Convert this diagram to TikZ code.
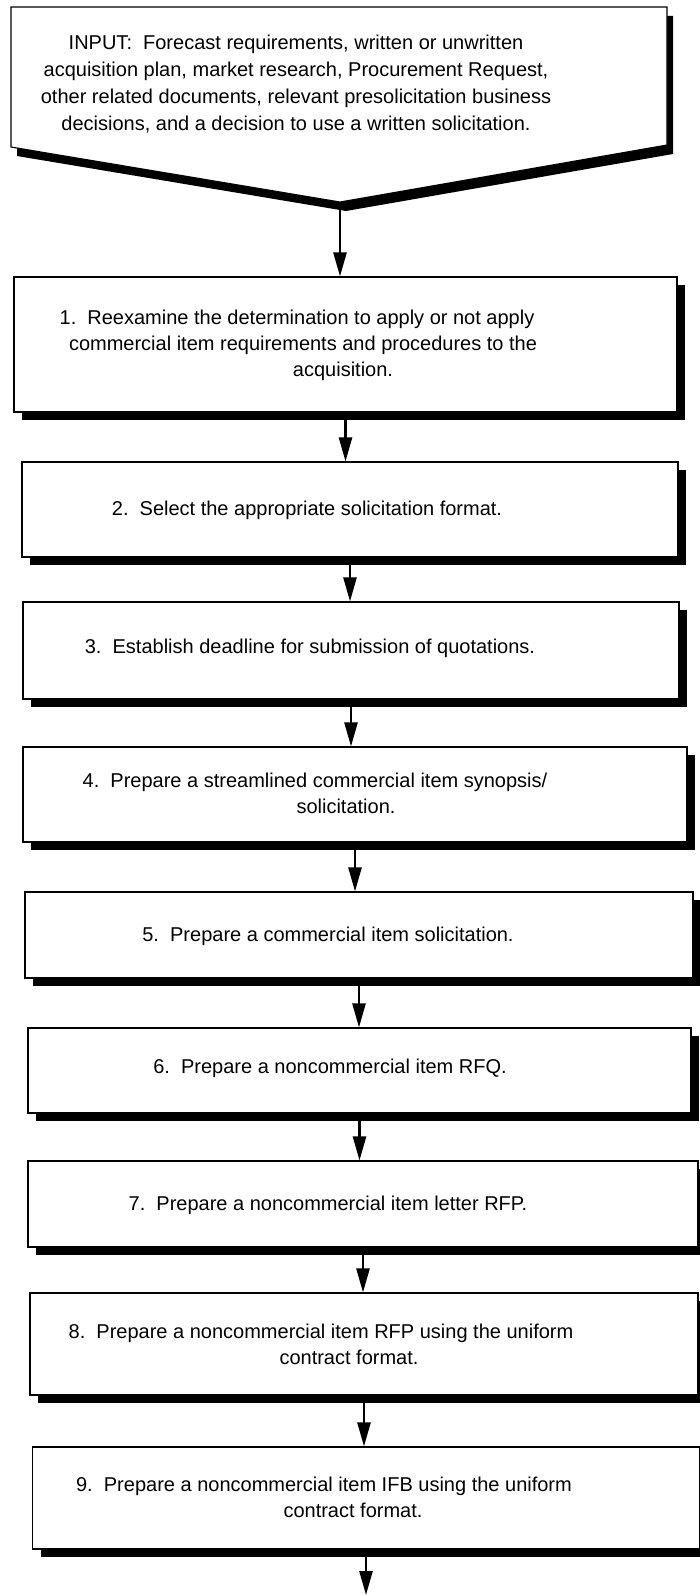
\documentclass[tikz,border=0pt]{standalone}
\usepackage{fontspec}
\setmainfont{Liberation Sans}
\usetikzlibrary{arrows.meta,shadows}
\tikzset{
  stepbox/.style={draw=black, line width=1.1pt, fill=white, inner sep=0pt,
    drop shadow={shadow xshift=8pt, shadow yshift=-8pt, fill=black, opacity=1}},
  lbl/.style={align=center, inner sep=0pt, font=\fontsize{20}{26}\selectfont},
  arr/.style={line width=2.4pt, -{Triangle[length=24pt,width=13pt]}},
  inputshape/.style={draw=black, line width=1.1pt, fill=white},
  inputshadow/.style={fill=black}
}
\newcommand\padr[1]{\rule{#1}{0pt}}
\begin{document}
\begin{tikzpicture}[x=1pt,y=-1pt]
\path[use as bounding box, fill=white] (0,0) rectangle (699,1595);

% input pentagon
\fill[inputshadow] (17,16) -- (673,16) -- (673,154) -- (346,211) -- (17,156) -- cycle;
\draw[inputshape] (11,7) -- (667,7) -- (667,145) -- (340,202) -- (11,147) -- cycle;
\coordinate (tip) at (340,202);
\node[lbl, font=\fontsize{20}{27}\selectfont] (inp) at (296,84)
  {INPUT:\ \ Forecast requirements, written or unwritten\\
   acquisition plan, market research, Procurement Request,\\
   other related documents, relevant presolicitation business\\
   decisions, and a decision to use a written solicitation.};

% boxes
\node[stepbox, minimum width=663pt, minimum height=135pt] (b1) at (345.5,344.5) {};
\node[stepbox, minimum width=656pt, minimum height=95pt]  (b2) at (350,509.5) {};
\node[stepbox, minimum width=656pt, minimum height=97pt]  (b3) at (351,650.5) {};
\node[stepbox, minimum width=664pt, minimum height=95pt]  (b4) at (355,794.5) {};
\node[stepbox, minimum width=668pt, minimum height=86pt]  (b5) at (359,935) {};
\node[stepbox, minimum width=663pt, minimum height=85pt]  (b6) at (359.5,1070.5) {};
\node[stepbox, minimum width=670pt, minimum height=86pt]  (b7) at (363,1204) {};
\node[stepbox, minimum width=668pt, minimum height=102pt] (b8) at (364,1344) {};
\node[stepbox, minimum width=667pt, minimum height=102pt] (b9) at (366,1498) {};

% texts
\node[lbl] (t1) at (343,345)
  {1.\ \ Reexamine the determination to apply or not apply\padr{92pt}\\
   commercial item requirements and procedures to the\padr{80pt}\\
   acquisition.};
\node[lbl] (t2) at (307,510) {2.\ \ Select the appropriate solicitation format.};
\node[lbl] (t3) at (310,648) {3.\ \ Establish deadline for submission of quotations.};
\node[lbl] (t4) at (346,793)
  {4.\ \ Prepare a streamlined commercial item synopsis/\padr{62pt}\\
   solicitation.};
\node[lbl] (t5) at (328,936) {5.\ \ Prepare a commercial item solicitation.};
\node[lbl] (t6) at (330,1068) {6.\ \ Prepare a noncommercial item RFQ.};
\node[lbl] (t7) at (328,1205) {7.\ \ Prepare a noncommercial item letter RFP.};
\node[lbl] (t8) at (349,1344)
  {8.\ \ Prepare a noncommercial item RFP using the uniform\padr{56pt}\\
   contract format.};
\node[lbl] (t9) at (353,1497)
  {9.\ \ Prepare a noncommercial item IFB using the uniform\padr{58pt}\\
   contract format.};

% connectors
\draw[arr] (tip) -- (tip |- b1.north);
\draw[arr] (b1.south) -- (b1.south |- b2.north);
\draw[arr] (b2.south) -- (b2.south |- b3.north);
\draw[arr] (b3.south) -- (b3.south |- b4.north);
\draw[arr] (b4.south) -- (b4.south |- b5.north);
\draw[arr] (b5.south) -- (b5.south |- b6.north);
\draw[arr] (b6.south) -- (b6.south |- b7.north);
\draw[arr] (b7.south) -- (b7.south |- b8.north);
\draw[arr] (b8.south) -- (b8.south |- b9.north);
\coordinate (endpt) at (366,1595);
\draw[arr] (b9.south) -- (endpt);
\end{tikzpicture}
\end{document}
